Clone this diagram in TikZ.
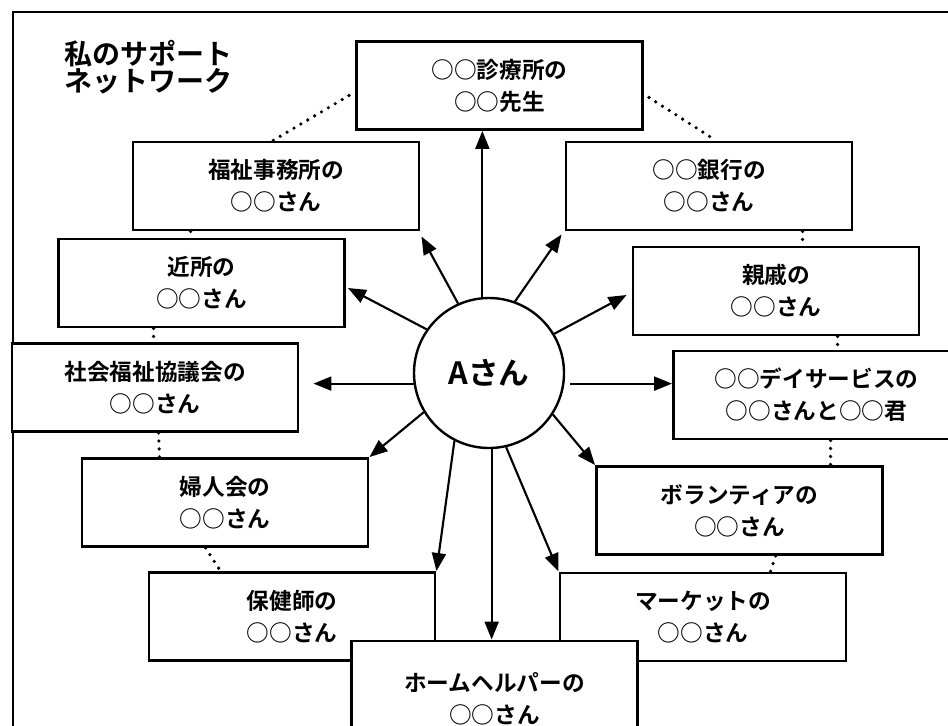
\documentclass[tikz,border=0pt]{standalone}
\usepackage{fontspec}
\newfontfamily\jp{Noto Sans CJK JP}[BoldFont={* Bold}]
\usetikzlibrary{arrows.meta,calc}
\begin{document}
\begin{tikzpicture}[x=0.75pt,y=-0.75pt,
  box/.style={draw,line width=2.2pt,fill=white,minimum width=214.5pt,minimum height=66pt,inner sep=0pt,align=center,font=\jp\bfseries\fontsize{17}{24}\selectfont},
  arr/.style={line width=1.6pt,-{Triangle[length=13.5pt,width=10.5pt]}},
  dotline/.style={line width=2.7pt,dash pattern=on 0pt off 6pt,line cap=round},
  frameline/.style={line width=1.5pt}]
\useasboundingbox (0,0) rectangle (948,725);
\clip (0,0) rectangle (948,725);
\fill[white] (0,0) rectangle (948,725);
\coordinate (fr) at (13,12);
\coordinate (frb) at (13,760);
\coordinate (frr) at (990,12);
\draw[frameline] (frb) -- (fr) -- (frr);

\node[font=\jp\bfseries\fontsize{21}{20}\selectfont,align=center] (title) at (148,67) {私のサポート\\ネットワーク};

\node[box] (clinic) at (499.5,85.5) {○○診療所の\\○○先生};
\node[box] (fukushi) at (276,186) {福祉事務所の\\○○さん};
\node[box] (kinjo) at (201.5,283) {近所の\\○○さん};
\node[box] (shakai) at (155,387.5) {社会福祉協議会の\\○○さん};
\node[box] (fujin) at (225,502.5) {婦人会の\\○○さん};
\node[box] (hoken) at (292,616.5) {保健師の\\○○さん};
\node[box] (bank) at (709,186) {○○銀行の\\○○さん};
\node[box] (shinseki) at (776,291) {親戚の\\○○さん};
\node[box] (day) at (816.5,395) {○○デイサービスの\\○○さんと○○君};
\node[box] (volunteer) at (739.5,510.5) {ボランティアの\\○○さん};
\node[box] (market) at (703,617) {マーケットの\\○○さん};
\node[box,minimum height=87pt] (home) at (494.5,699) {ホームヘルパーの\\○○さん};

\node[circle,draw,line width=1.8pt,minimum size=112.5pt,inner sep=0pt,font=\jp\bfseries\fontsize{23}{26}\selectfont] (A) at (489,373) {Aさん};

% dotted ring
\draw[dotline] ($(clinic.west)+(-6,10)$) -- ($(fukushi.north)+(-3,0)$);
\draw[dotline] ($(clinic.east)+(5,12)$) -- ($(bank.north)+(7,0)$);
\draw[dotline] ($(fukushi.south west)+(59,0)$) -- ($(kinjo.north west)+(133.5,0)$);
\draw[dotline] ($(kinjo.south west)+(96.5,0)$) -- ($(shakai.north west)+(143,0)$);
\draw[dotline] ($(shakai.south west)+(148,0)$) -- ($(fujin.north west)+(79,0)$);
\draw[dotline] ($(fujin.south west)+(125,0)$) -- ($(hoken.north west)+(73,0)$);
\draw[dotline] ($(bank.south west)+(238,0)$) -- ($(shinseki.north west)+(171,0)$);
\draw[dotline] ($(shinseki.south west)+(206,0)$) -- ($(day.north west)+(165.5,0)$);
\draw[dotline] ($(day.south west)+(158.5,0)$) -- ($(volunteer.north west)+(235.5,0)$);
\draw[dotline] ($(volunteer.south west)+(180.5,0)$) -- ($(market.north west)+(212,0)$);

% arrows
\draw[arr] (A.95) -- (A.95 |- clinic.south);
\draw[arr] (A.114) -- ($(fukushi.south east)+(1,5)$);
\draw[arr] (A.145) -- ($(kinjo.east)+(2,5)$);
\draw[arr,shorten >=10.5pt] (A.188) -- (A.188 -| shakai.east);
\draw[arr] (A.211) -- (fujin.north east);
\draw[arr] (A.243) -- (hoken.north east);
\draw[arr] (A.272) -- (A.272 |- home.north);
\draw[arr] (A.283) -- (market.north west);
\draw[arr] (A.327) -- (volunteer.north west);
\draw[arr,shorten <=4pt] (A.352) -- (A.352 -| day.west);
\draw[arr] (A.31) -- ($(shinseki.west)+(-5,4)$);
\draw[arr] (A.70) -- ($(bank.south west)+(-3,3)$);
\end{tikzpicture}
\end{document}
